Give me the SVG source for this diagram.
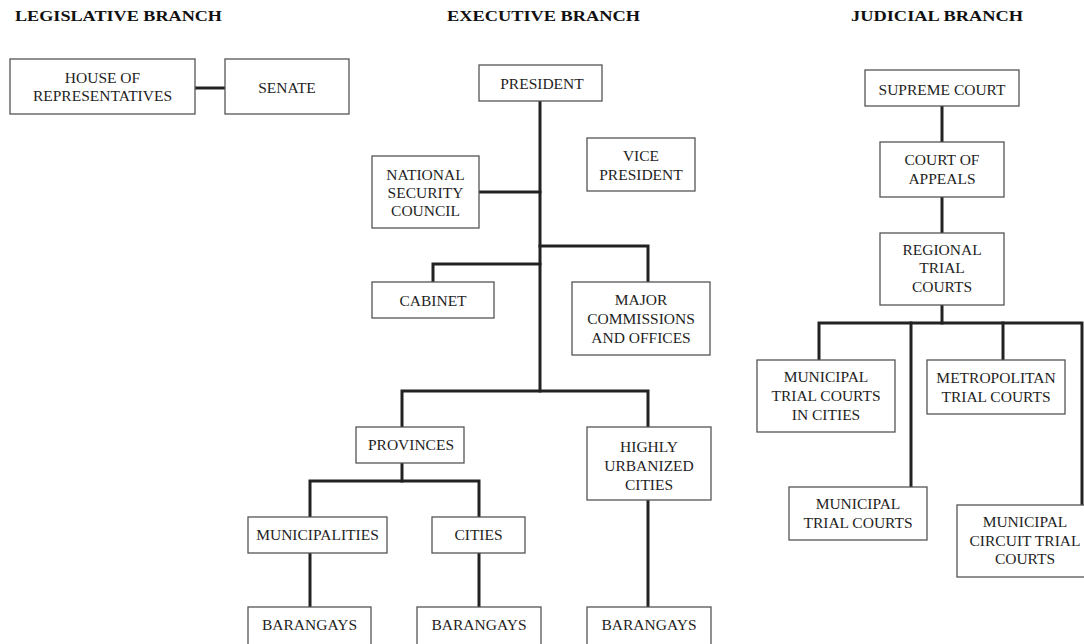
<svg xmlns="http://www.w3.org/2000/svg" width="1084" height="644" viewBox="0 0 1084 644">
<style>
.bg{fill:#ffffff}
.box{fill:#ffffff;stroke:#555555;stroke-width:1.3}
.t{font-family:"Liberation Serif","Times New Roman",serif;font-size:15.5px;fill:#1e1e1e;text-anchor:middle}
.h{font-family:"Liberation Serif","Times New Roman",serif;font-size:15.5px;font-weight:bold;fill:#111111}
.c{fill:none;stroke:#222222;stroke-width:3;stroke-linecap:square;stroke-linejoin:miter}
</style>
<rect class="bg" x="0" y="0" width="1084" height="644"/>
<g id="titles">
<text class="h" x="15" y="21" textLength="207" lengthAdjust="spacingAndGlyphs">LEGISLATIVE BRANCH</text>
<text class="h" x="447" y="21" textLength="193" lengthAdjust="spacingAndGlyphs">EXECUTIVE BRANCH</text>
<text class="h" x="851" y="21" textLength="172" lengthAdjust="spacingAndGlyphs">JUDICIAL BRANCH</text>
</g>
<g id="connectors">
<path class="c" d="M195 88H225"/>
<path class="c" d="M540 101V391"/>
<path class="c" d="M479 192H540"/>
<path class="c" d="M540 246H648V282"/>
<path class="c" d="M540 264H433V282"/>
<path class="c" d="M402 427V391H648V427"/>
<path class="c" d="M402 463V481"/>
<path class="c" d="M310 517V481H479V517"/>
<path class="c" d="M310 553V607"/>
<path class="c" d="M479 553V607"/>
<path class="c" d="M648 500V607"/>
<path class="c" d="M942 106V142"/>
<path class="c" d="M942 197V233"/>
<path class="c" d="M942 305V323"/>
<path class="c" d="M819 360V323H1082V505"/>
<path class="c" d="M911 323V487"/>
<path class="c" d="M1003 323V360"/>
</g>
<g id="house">
<rect class="box" x="10" y="59" width="185" height="55"/>
<text class="t" x="102.5" y="82.5">HOUSE OF</text>
<text class="t" x="102.5" y="101">REPRESENTATIVES</text>
</g>
<g id="senate">
<rect class="box" x="225" y="59" width="124" height="55"/>
<text class="t" x="287" y="92.5">SENATE</text>
</g>
<g id="president">
<rect class="box" x="479" y="65" width="123" height="36"/>
<text class="t" x="542" y="88.5">PRESIDENT</text>
</g>
<g id="vice-president">
<rect class="box" x="587" y="138" width="108" height="53"/>
<text class="t" x="641" y="161">VICE</text>
<text class="t" x="641" y="179.5">PRESIDENT</text>
</g>
<g id="nsc">
<rect class="box" x="372" y="156" width="107" height="72"/>
<text class="t" x="425.5" y="180">NATIONAL</text>
<text class="t" x="425.5" y="198">SECURITY</text>
<text class="t" x="425.5" y="216">COUNCIL</text>
</g>
<g id="cabinet">
<rect class="box" x="372" y="282" width="122" height="36"/>
<text class="t" x="433" y="305.5">CABINET</text>
</g>
<g id="major">
<rect class="box" x="572" y="282" width="138" height="73"/>
<text class="t" x="641" y="304.5">MAJOR</text>
<text class="t" x="641" y="323.5">COMMISSIONS</text>
<text class="t" x="641" y="342.5">AND OFFICES</text>
</g>
<g id="provinces">
<rect class="box" x="356" y="427" width="108" height="36"/>
<text class="t" x="411" y="449.5">PROVINCES</text>
</g>
<g id="huc">
<rect class="box" x="587" y="427" width="124" height="73"/>
<text class="t" x="649" y="452">HIGHLY</text>
<text class="t" x="649" y="471">URBANIZED</text>
<text class="t" x="649" y="489.5">CITIES</text>
</g>
<g id="municipalities">
<rect class="box" x="248" y="517" width="139" height="36"/>
<text class="t" x="317.5" y="539.5">MUNICIPALITIES</text>
</g>
<g id="cities">
<rect class="box" x="432" y="517" width="93" height="36"/>
<text class="t" x="478.5" y="539.5">CITIES</text>
</g>
<g id="barangays-1">
<rect class="box" x="248" y="607" width="123" height="42"/>
<text class="t" x="309.5" y="630">BARANGAYS</text>
</g>
<g id="barangays-2">
<rect class="box" x="417" y="607" width="124" height="42"/>
<text class="t" x="479" y="630">BARANGAYS</text>
</g>
<g id="barangays-3">
<rect class="box" x="587" y="607" width="124" height="42"/>
<text class="t" x="649" y="630">BARANGAYS</text>
</g>
<g id="supreme-court">
<rect class="box" x="865" y="70" width="154" height="36"/>
<text class="t" x="942" y="94.5">SUPREME COURT</text>
</g>
<g id="court-of-appeals">
<rect class="box" x="880" y="142" width="124" height="55"/>
<text class="t" x="942" y="165">COURT OF</text>
<text class="t" x="942" y="183.5">APPEALS</text>
</g>
<g id="rtc">
<rect class="box" x="880" y="233" width="124" height="72"/>
<text class="t" x="942" y="254.5">REGIONAL</text>
<text class="t" x="942" y="273">TRIAL</text>
<text class="t" x="942" y="292">COURTS</text>
</g>
<g id="mtcc">
<rect class="box" x="757" y="360" width="138" height="72"/>
<text class="t" x="826" y="382">MUNICIPAL</text>
<text class="t" x="826" y="401">TRIAL COURTS</text>
<text class="t" x="826" y="420">IN CITIES</text>
</g>
<g id="metc">
<rect class="box" x="927" y="360" width="138" height="54"/>
<text class="t" x="996" y="382.5">METROPOLITAN</text>
<text class="t" x="996" y="401.5">TRIAL COURTS</text>
</g>
<g id="mtc">
<rect class="box" x="789" y="487" width="138" height="53"/>
<text class="t" x="858" y="508.5">MUNICIPAL</text>
<text class="t" x="858" y="527.5">TRIAL COURTS</text>
</g>
<g id="mctc">
<rect class="box" x="957" y="505" width="136" height="72"/>
<text class="t" x="1025" y="527">MUNICIPAL</text>
<text class="t" x="1025" y="545.5">CIRCUIT TRIAL</text>
<text class="t" x="1025" y="564">COURTS</text>
</g>
</svg>
